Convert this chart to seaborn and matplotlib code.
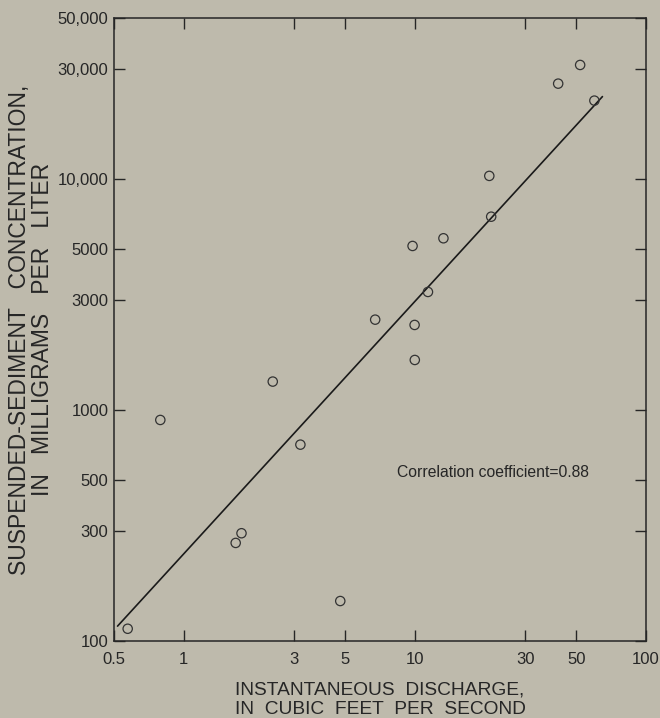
import matplotlib
matplotlib.use("Agg")
import matplotlib.pyplot as plt
import seaborn as sns
import pandas as pd
from matplotlib.ticker import FixedLocator, FixedFormatter, NullLocator

# ---- data ----
discharge = [0.573, 0.793, 2.43, 3.2, 1.78, 1.68, 4.76, 21.0, 21.4, 13.3,
             9.78, 11.4, 6.74, 9.98, 10.0, 51.9, 41.7, 59.8]
concentration = [113, 907, 1330, 709, 293, 266, 149, 10350, 6890, 5555,
                 5145, 3252, 2467, 2340, 1650, 31300, 25980, 21930]

fit_x = [0.518, 64.8]
fit_y = [116, 22830]

x_ticks = [0.5, 1, 3, 5, 10, 30, 50, 100]
x_tick_labels = ["0.5", "1", "3", "5", "10", "30", "50", "100"]
y_ticks = [100, 300, 500, 1000, 3000, 5000, 10000, 30000, 50000]
y_tick_labels = ["100", "300", "500", "1000", "3000", "5000", "10,000", "30,000", "50,000"]

bg = "#bebaac"
ink = "#262626"

sns.set_style("ticks")
plt.rcParams['font.family'] = ['Liberation Sans', 'DejaVu Sans']

fig = plt.figure(figsize=(6.6, 7.18), dpi=100, facecolor=bg)
ax = fig.add_axes([114/660, 1-641/718, (646-114)/660, (641-18)/718])
ax.set_facecolor(bg)

df = pd.DataFrame({"q": discharge, "c": concentration})
fit = pd.DataFrame({"q": fit_x, "c": fit_y})

sns.lineplot(data=fit, x="q", y="c", ax=ax, color="#1a1a1a", linewidth=1.2)
sns.scatterplot(data=df, x="q", y="c", ax=ax, marker="o", s=45,
                facecolors="none", edgecolor="#333333", linewidth=0.9, zorder=3)

ax.set_xscale("log")
ax.set_yscale("log")
ax.set_xlim(0.5, 100)
ax.set_ylim(100, 50000)

ax.xaxis.set_major_locator(FixedLocator(x_ticks))
ax.xaxis.set_major_formatter(FixedFormatter(x_tick_labels))
ax.xaxis.set_minor_locator(NullLocator())
ax.yaxis.set_major_locator(FixedLocator(y_ticks))
ax.yaxis.set_major_formatter(FixedFormatter(y_tick_labels))
ax.yaxis.set_minor_locator(NullLocator())

ax.tick_params(axis="both", which="major", direction="in", length=8, width=1.0,
               color=ink, labelsize=12, labelcolor=ink,
               top=True, right=True)
ax.tick_params(axis="x", pad=8)
ax.tick_params(axis="y", pad=4)

for sp in ax.spines.values():
    sp.set_visible(True)
    sp.set_color(ink)
    sp.set_linewidth(1.1)

ax.set_xlabel("INSTANTANEOUS  DISCHARGE,\nIN  CUBIC  FEET  PER  SECOND",
              fontsize=13.8, color=ink, labelpad=10.5, linespacing=1.15)
ax.set_ylabel("SUSPENDED-SEDIMENT   CONCENTRATION,\nIN   MILLIGRAMS   PER   LITER",
              fontsize=16.5, color=ink, labelpad=3, linespacing=1.0)

ax.text(8.4, 539, "Correlation coefficient=0.88", fontsize=11.3, color=ink,
        ha="left", va="center")

fig.savefig("out.png", dpi=100, facecolor=bg)
